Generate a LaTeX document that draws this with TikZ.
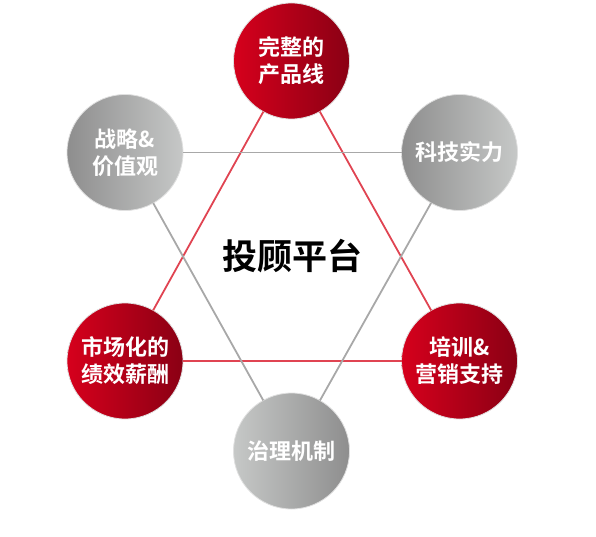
\documentclass[tikz,border=0pt]{standalone}
\usepackage{fontspec}
\newfontfamily\cjk{Noto Sans CJK SC}[BoldFont={Noto Sans CJK SC Bold}]
\definecolor{redlight}{HTML}{D6001C}
\definecolor{reddark}{HTML}{8A0014}
\definecolor{graydark}{HTML}{8E8E8E}
\definecolor{graylight}{HTML}{C6C8C7}
\definecolor{redline}{HTML}{E04452}
\definecolor{grayline}{HTML}{A8A8A8}
\tikzset{
  ball/.style={circle, minimum size=116pt, inner sep=0pt, outer sep=0pt, draw=white!88!black, line width=0.8pt,
    text=white, align=center, font=\cjk\bfseries\fontsize{22}{27}\selectfont},
  redball/.style={ball, left color=redlight, right color=reddark},
  grayball/.style={ball, left color=graydark, right color=graylight},
  grayballr/.style={ball, left color=graylight, right color=graydark},
  rededge/.style={draw=redline, line width=1.8pt},
  grayedge/.style={draw=grayline, line width=1.8pt}
}
\begin{document}
\begin{tikzpicture}[x=1pt, y=-1pt]
    \useasboundingbox (0,0) rectangle (596,537);
    \node[font=\cjk\bfseries\fontsize{35}{40}\selectfont] (hub) at (292,256) {投顾平台} ;

    \node[redball] (line) at (291.5,61) {完整的\\产品线} ;
    \node[grayball] (strategy) at (125,152.5) {战略\&\\价值观} ;
    \node[grayball] (tech) at (459.5,152.5) {科技实力} ;
    \node[redball] (pay) at (125,361) {市场化的\\绩效薪酬} ;
    \node[redball] (training) at (459.5,361) {培训\&\\营销支持} ;
    \node[grayballr] (governance) at (291.5,451) {治理机制} ;

    \draw[rededge] (line) -- (training) ;
    \draw[rededge] (line) -- (pay) ;
    \draw[rededge] (pay) -- (training) ;

    \draw[grayedge] (strategy) -- (tech) ;
    \draw[grayedge] (strategy) -- (governance) ;
    \draw[grayedge] (tech) -- (governance) ;
\end{tikzpicture}
\end{document}
